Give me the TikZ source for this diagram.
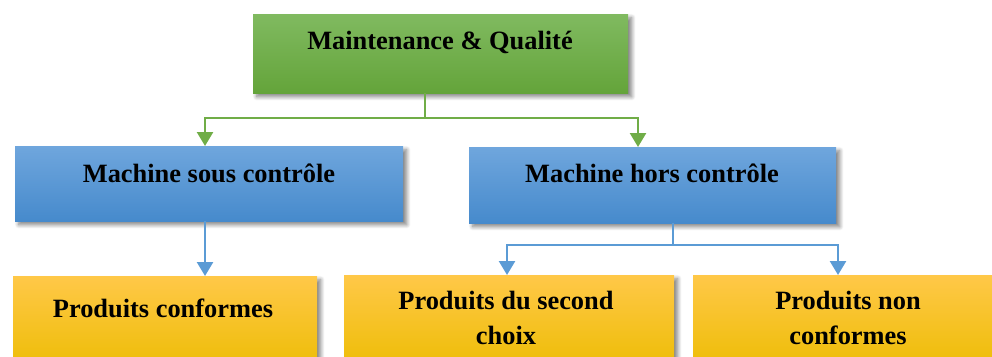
\documentclass[tikz,border=0pt]{standalone}
\usepackage{fontspec}
\setmainfont{Liberation Serif}
\usetikzlibrary{arrows.meta,shadows.blur}
\definecolor{greenT}{RGB}{128,186,96}
\definecolor{greenB}{RGB}{100,164,58}
\definecolor{greenL}{RGB}{112,173,71}
\definecolor{blueT}{RGB}{111,166,221}
\definecolor{blueB}{RGB}{70,138,204}
\definecolor{blueL}{RGB}{91,155,213}
\definecolor{orangeT}{RGB}{255,200,72}
\definecolor{orangeB}{RGB}{236,188,0}
\tikzset{
  box/.style={draw=none, inner sep=0pt, anchor=north west,
    blur shadow={shadow xshift=3.5bp, shadow yshift=-3.5bp, shadow blur radius=4bp, shadow blur steps=8, shadow opacity=50}},
  gbox/.style={box, top color=greenT, bottom color=greenB},
  bbox/.style={box, top color=blueT, bottom color=blueB},
  obox/.style={box, top color=orangeT, bottom color=orangeB},
  lbl/.style={font=\bfseries\fontsize{26.5}{35}\selectfont, align=center, inner sep=0pt},
  garrow/.style={draw=greenL, line width=2.5bp, -{Triangle[length=14bp,width=16bp]}},
  barrow/.style={draw=blueL, line width=2.5bp, -{Triangle[length=14bp,width=16bp]}},
}
\begin{document}
\begin{tikzpicture}[x=1bp,y=-1bp]
\useasboundingbox (0,0) rectangle (992,356);
\clip (0,0) rectangle (992,356);
% boxes
\node[gbox, minimum width=375bp, minimum height=79bp] (top) at (253,14) {};
\node[bbox, minimum width=388bp, minimum height=75bp] (msc) at (15,146) {};
\node[bbox, minimum width=367bp, minimum height=76bp] (mhc) at (469,147) {};
\node[obox, minimum width=304bp, minimum height=100bp] (pc) at (13,276) {};
\node[obox, minimum width=330bp, minimum height=100bp] (psc) at (344,275) {};
\node[obox, minimum width=310bp, minimum height=100bp] (pnc) at (693,275) {};
% labels
\node[lbl] (ttop) at (440,42) {Maintenance \& Qualité};
\node[lbl] (tmsc) at (209,173) {Machine sous contrôle};
\node[lbl] (tmhc) at (652,173) {Machine hors contrôle};
\node[lbl] (tpc) at (163,308) {Produits conformes};
\node[lbl] (tpsc) at (506,318) {Produits du second\\choix};
\node[lbl] (tpnc) at (848,318) {Produits non\\conformes};
% connectors
\coordinate (gsplit) at (425,118);
\draw[greenL, line width=2.5bp] (top.south -| gsplit) -- (gsplit);
\draw[garrow] (gsplit) -| (205,0 |- msc.north);
\draw[garrow] (gsplit) -| (638,0 |- mhc.north);
\draw[barrow] (msc.south -| 205,0) -- (205,0 |- pc.north);
\coordinate (bsplit) at (673,245);
\draw[blueL, line width=2.5bp] (mhc.south -| bsplit) -- (bsplit);
\draw[barrow] (bsplit) -| (507,0 |- psc.north);
\draw[barrow] (bsplit) -| (838,0 |- pnc.north);
\end{tikzpicture}
\end{document}
